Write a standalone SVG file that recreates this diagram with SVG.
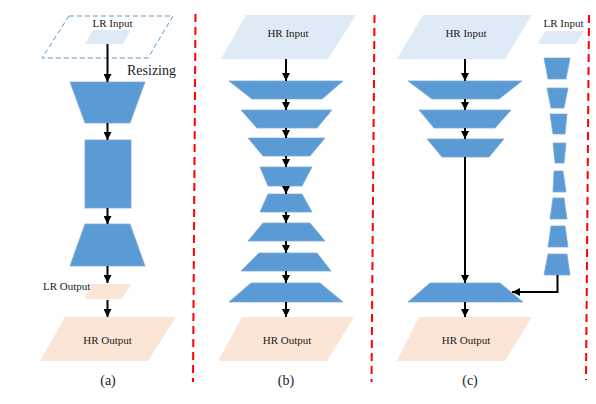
<svg xmlns="http://www.w3.org/2000/svg" width="596" height="404" viewBox="0 0 596 404">
<style>
.blk{fill:#5B9BD5;stroke:#7FA9D8;stroke-width:0.8}
.inp{fill:#DEEBF7}
.out{fill:#FBE5D6}
.dsh{fill:none;stroke:#5B9BD5;stroke-width:1;stroke-dasharray:5,3}
.sep{fill:none;stroke:#FF0000;stroke-width:2;stroke-dasharray:8,5}
.con{fill:none;stroke:#000;stroke-width:2;marker-end:url(#ah)}
text{font-family:"Liberation Serif","Times New Roman",serif;fill:#222}
.lb{font-size:11px}
.cap{font-size:14px}
</style>
<defs>
<marker id="ah" markerUnits="userSpaceOnUse" markerWidth="8" markerHeight="8" refX="8" refY="4" orient="auto">
<path d="M0,0 L8,4 L0,8 z" fill="#000"/>
</marker>
</defs>
<rect width="596" height="404" fill="#fff"/>
<g id="separators">
<line class="sep" x1="195.5" y1="14" x2="193" y2="382"/>
<line class="sep" x1="374.5" y1="15" x2="371.5" y2="382"/>
<line class="sep" x1="589" y1="15" x2="586" y2="380"/>
</g>
<!-- Panel (a) -->
<g id="a_lr_input">
<polygon class="dsh" points="69,16 173,16 148,58 42,58"/>
<polygon class="inp" points="93,30 131,30 123,44 85,44"/>
<text class="lb" x="112.5" y="27" text-anchor="middle">LR Input</text>
</g>
<g id="a_resizing"><text class="cap" x="127" y="75">Resizing</text></g>
<g id="a_enc"><polygon class="blk" points="70,82 145,82 130,123 85,123"/></g>
<g id="a_mid"><rect class="blk" x="85" y="140" width="46" height="68"/></g>
<g id="a_dec"><polygon class="blk" points="85,224 130,224 145,266 70,266"/></g>
<g id="a_lr_output">
<polygon class="out" points="91,284 131,284 122,299 85,299"/>
<text class="lb" x="43" y="290">LR Output</text>
</g>
<g id="a_hr_output">
<polygon class="out" points="65,317 176,317 148,361 40,361"/>
<text class="lb" x="107.5" y="344" text-anchor="middle">HR Output</text>
</g>
<g id="a_caption"><text class="cap" x="108" y="385" text-anchor="middle">(a)</text></g>
<!-- Panel (b) -->
<g id="b_hr_input">
<polygon class="inp" points="246,15 356,15 328,59 221,59"/>
<text class="lb" x="288" y="37" text-anchor="middle">HR Input</text>
</g>
<g id="b_l1"><polygon class="blk" points="229,81 343,81 322,99 252,99"/></g>
<g id="b_l2"><polygon class="blk" points="241,110 332,110 317,128 257,128"/></g>
<g id="b_l3"><polygon class="blk" points="248,138 325,138 310,156 263,156"/></g>
<g id="b_l4"><polygon class="blk" points="260,167 312,167 302,186 268,186"/></g>
<g id="b_l5"><polygon class="blk" points="268,194 302,194 312,212 260,212"/></g>
<g id="b_l6"><polygon class="blk" points="263,223 310,223 325,241 248,241"/></g>
<g id="b_l7"><polygon class="blk" points="259,253 317,253 331,271 241,271"/></g>
<g id="b_l8"><polygon class="blk" points="251,283 320,283 343,302 229,302"/></g>
<g id="b_hr_output">
<polygon class="out" points="242,317 354,317 327,361 218,361"/>
<text class="lb" x="287" y="344" text-anchor="middle">HR Output</text>
</g>
<g id="b_caption"><text class="cap" x="286" y="385" text-anchor="middle">(b)</text></g>
<!-- Panel (c) -->
<g id="c_hr_input">
<polygon class="inp" points="423,15 532,15 505,59 397,59"/>
<text class="lb" x="466" y="37" text-anchor="middle">HR Input</text>
</g>
<g id="c_l1"><polygon class="blk" points="408,81 522,81 499,99 432,99"/></g>
<g id="c_l2"><polygon class="blk" points="419,110 511,110 495,128 434,128"/></g>
<g id="c_l3"><polygon class="blk" points="427,139 504,139 489,157 442,157"/></g>
<g id="c_fuse"><polygon class="blk" points="430,283 500,283 523,302 408,302"/></g>
<g id="c_hr_output">
<polygon class="out" points="419,317 532,317 505,361 397,361"/>
<text class="lb" x="466" y="344" text-anchor="middle">HR Output</text>
</g>
<g id="c_caption"><text class="cap" x="470" y="385" text-anchor="middle">(c)</text></g>
<g id="c_lr_input">
<polygon class="inp" points="545,31 584,31 576,44 538,44"/>
<text class="lb" x="563.5" y="27" text-anchor="middle">LR Input</text>
</g>
<g id="c_s1"><polygon class="blk" points="544,58 570,58 566,79 548,79"/></g>
<g id="c_s2"><polygon class="blk" points="547,88 568,88 564,108 551,108"/></g>
<g id="c_s3"><polygon class="blk" points="550,114 567,114 565,134 553,134"/></g>
<g id="c_s4"><polygon class="blk" points="553,143 566,143 564,163 555,163"/></g>
<g id="c_s5"><polygon class="blk" points="554,171 563,171 566,192 553,192"/></g>
<g id="c_s6"><polygon class="blk" points="553,198 564,198 567,219 550,219"/></g>
<g id="c_s7"><polygon class="blk" points="551,226 565,226 568,247 548,247"/></g>
<g id="c_s8"><polygon class="blk" points="548,254 567,254 570,275 544,275"/></g>
<g id="connectors">
<line class="con" x1="107.5" y1="44" x2="107.5" y2="82"/>
<line class="con" x1="107.5" y1="123" x2="107.5" y2="140"/>
<line class="con" x1="107.5" y1="208" x2="107.5" y2="224"/>
<line class="con" x1="107.5" y1="266" x2="107.5" y2="283"/>
<line class="con" x1="107.5" y1="300" x2="107.5" y2="317"/>
<line class="con" x1="286" y1="59" x2="286" y2="81"/>
<line class="con" x1="286" y1="99" x2="286" y2="110"/>
<line class="con" x1="286" y1="128" x2="286" y2="138"/>
<line class="con" x1="286" y1="156" x2="286" y2="167"/>
<line class="con" x1="286" y1="186" x2="286" y2="194"/>
<line class="con" x1="286" y1="212" x2="286" y2="223"/>
<line class="con" x1="286" y1="241" x2="286" y2="253"/>
<line class="con" x1="286" y1="271" x2="286" y2="283"/>
<line class="con" x1="286" y1="302" x2="286" y2="317"/>
<line class="con" x1="465" y1="59" x2="465" y2="81"/>
<line class="con" x1="465" y1="99" x2="465" y2="110"/>
<line class="con" x1="465" y1="128" x2="465" y2="139"/>
<line class="con" x1="465" y1="157" x2="465" y2="283"/>
<line class="con" x1="465" y1="302" x2="465" y2="317"/>
<polyline class="con" points="557.5,275 557.5,292 512,292"/>
</g>
</svg>
